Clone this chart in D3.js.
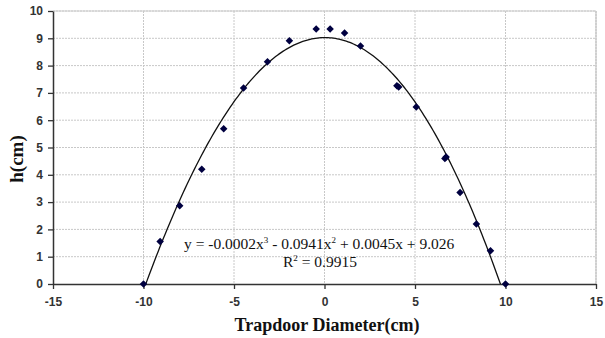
<!DOCTYPE html>
<html><head><meta charset="utf-8">
<script src="https://cdn.jsdelivr.net/npm/d3@7"></script>
<style>body{margin:0;background:#fff}svg{display:block}</style>
</head><body>
<script>
const xValues = [-10, -9.08, -8.0, -6.78, -5.57, -4.47, -3.15, -1.94, -0.46, 0.31, 1.11, 1.99, 4.0, 4.1, 5.07, 6.65, 6.72, 7.49, 8.39, 9.17, 10.0];
const hValues = [0, 1.56, 2.87, 4.2, 5.69, 7.18, 8.14, 8.91, 9.34, 9.34, 9.19, 8.72, 7.26, 7.22, 6.48, 4.6, 4.65, 3.35, 2.2, 1.22, 0];
const trendCoef = [9.026, 0.0045, -0.0941, -0.0002]; // c0 + c1 x + c2 x^2 + c3 x^3
const xTicks = [-15, -10, -5, 0, 5, 10, 15];
const yTicks = [0,1,2,3,4,5,6,7,8,9,10];

const W = 605, H = 338;
const svg = d3.select("body").append("svg").attr("width", W).attr("height", H);
const m = {l: 53, r: 9, t: 11, b: 54};
const x = d3.scaleLinear().domain([-15, 15]).range([m.l, W - m.r]);
const y = d3.scaleLinear().domain([0, 10]).range([H - m.b, m.t]);

svg.append("defs").append("clipPath").attr("id", "clip")
  .append("rect").attr("x", m.l).attr("y", m.t).attr("width", W - m.r - m.l).attr("height", H - m.b - m.t);

// gridlines
const grid = svg.append("g");
grid.selectAll("line.h").data(yTicks.filter(d => d > 0)).join("line")
  .attr("x1", m.l).attr("x2", W - m.r).attr("y1", d => y(d)).attr("y2", d => y(d))
  .attr("stroke", "#c8c8c8").attr("stroke-width", 1).attr("stroke-dasharray", "2,1");
grid.selectAll("line.v").data(xTicks.filter(d => d > -15)).join("line")
  .attr("y1", m.t).attr("y2", H - m.b).attr("x1", d => x(d)).attr("x2", d => x(d))
  .attr("stroke", "#c8c8c8").attr("stroke-width", 1).attr("stroke-dasharray", "2,1");
svg.append("line").attr("x1", x(15)).attr("x2", x(15)).attr("y1", m.t).attr("y2", H - m.b)
  .attr("stroke", "#bbb");
svg.append("line").attr("x1", m.l).attr("x2", x(15)).attr("y1", m.t).attr("y2", m.t)
  .attr("stroke", "#ccc");

// axes
const fmt = d => String(d);
const xAxis = svg.append("g").attr("transform", `translate(0,${y(0)})`)
  .call(d3.axisBottom(x).tickValues(xTicks).tickFormat(fmt).tickSize(5).tickSizeOuter(0).tickPadding(8));
const yAxis = svg.append("g").attr("transform", `translate(${m.l},0)`)
  .call(d3.axisLeft(y).tickValues(yTicks).tickFormat(fmt).tickSize(5).tickSizeOuter(0).tickPadding(5));
[xAxis, yAxis].forEach(a => {
  a.select(".domain").attr("stroke", "#333").attr("stroke-width", 1.5);
  a.selectAll(".tick line").attr("stroke", "#333").attr("stroke-width", 1.3);
  a.selectAll("text").attr("font-family", "Arial, 'Liberation Sans', sans-serif")
    .attr("font-size", 12).attr("font-weight", "bold").attr("fill", "#333");
});

// trendline
const poly = v => trendCoef.reduce((s, c, i) => s + c * Math.pow(v, i), 0);
const xs = d3.range(-10, 10.001, 0.1);
svg.append("path").attr("clip-path", "url(#clip)")
  .datum(xs)
  .attr("d", d3.line().x(d => x(d)).y(d => y(poly(d))).curve(d3.curveLinear))
  .attr("fill", "none").attr("stroke", "#111").attr("stroke-width", 1.3);

// points
svg.append("g").selectAll("path").data(xValues.map((v, i) => [v, hValues[i]])).join("path")
  .attr("d", d3.symbol(d3.symbolDiamond2, 36))
  .attr("transform", d => `translate(${x(d[0])},${y(d[1])})`)
  .attr("fill", "#000040");

// equation
const serif = "'Liberation Serif', 'Times New Roman', serif";
const eq = svg.append("text").attr("x", 184).attr("y", 249)
  .attr("font-family", serif).attr("font-size", 15.5).attr("fill", "#111");
eq.append("tspan").text("y = -0.0002x");
eq.append("tspan").text("3").attr("font-size", 9).attr("dy", -6);
eq.append("tspan").text(" - 0.0941x").attr("dy", 6);
eq.append("tspan").text("2").attr("font-size", 9).attr("dy", -6);
eq.append("tspan").text(" + 0.0045x + 9.026").attr("dy", 6);
const r2 = svg.append("text").attr("x", 320).attr("y", 267).attr("text-anchor", "middle")
  .attr("font-family", serif).attr("font-size", 15.5).attr("fill", "#111");
r2.append("tspan").text("R");
r2.append("tspan").text("2").attr("font-size", 9).attr("dy", -6);
r2.append("tspan").text(" = 0.9915").attr("dy", 6);

// axis titles
svg.append("text").attr("x", 327).attr("y", 331).attr("text-anchor", "middle")
  .attr("font-family", serif).attr("font-size", 18)
  .attr("font-weight", "bold").attr("fill", "#111").text("Trapdoor Diameter(cm)");
svg.append("text").attr("transform", "translate(23,159) rotate(-90)").attr("text-anchor", "middle")
  .attr("font-family", serif).attr("font-size", 19)
  .attr("font-weight", "bold").attr("fill", "#111").text("h(cm)");
</script>
</body></html>
